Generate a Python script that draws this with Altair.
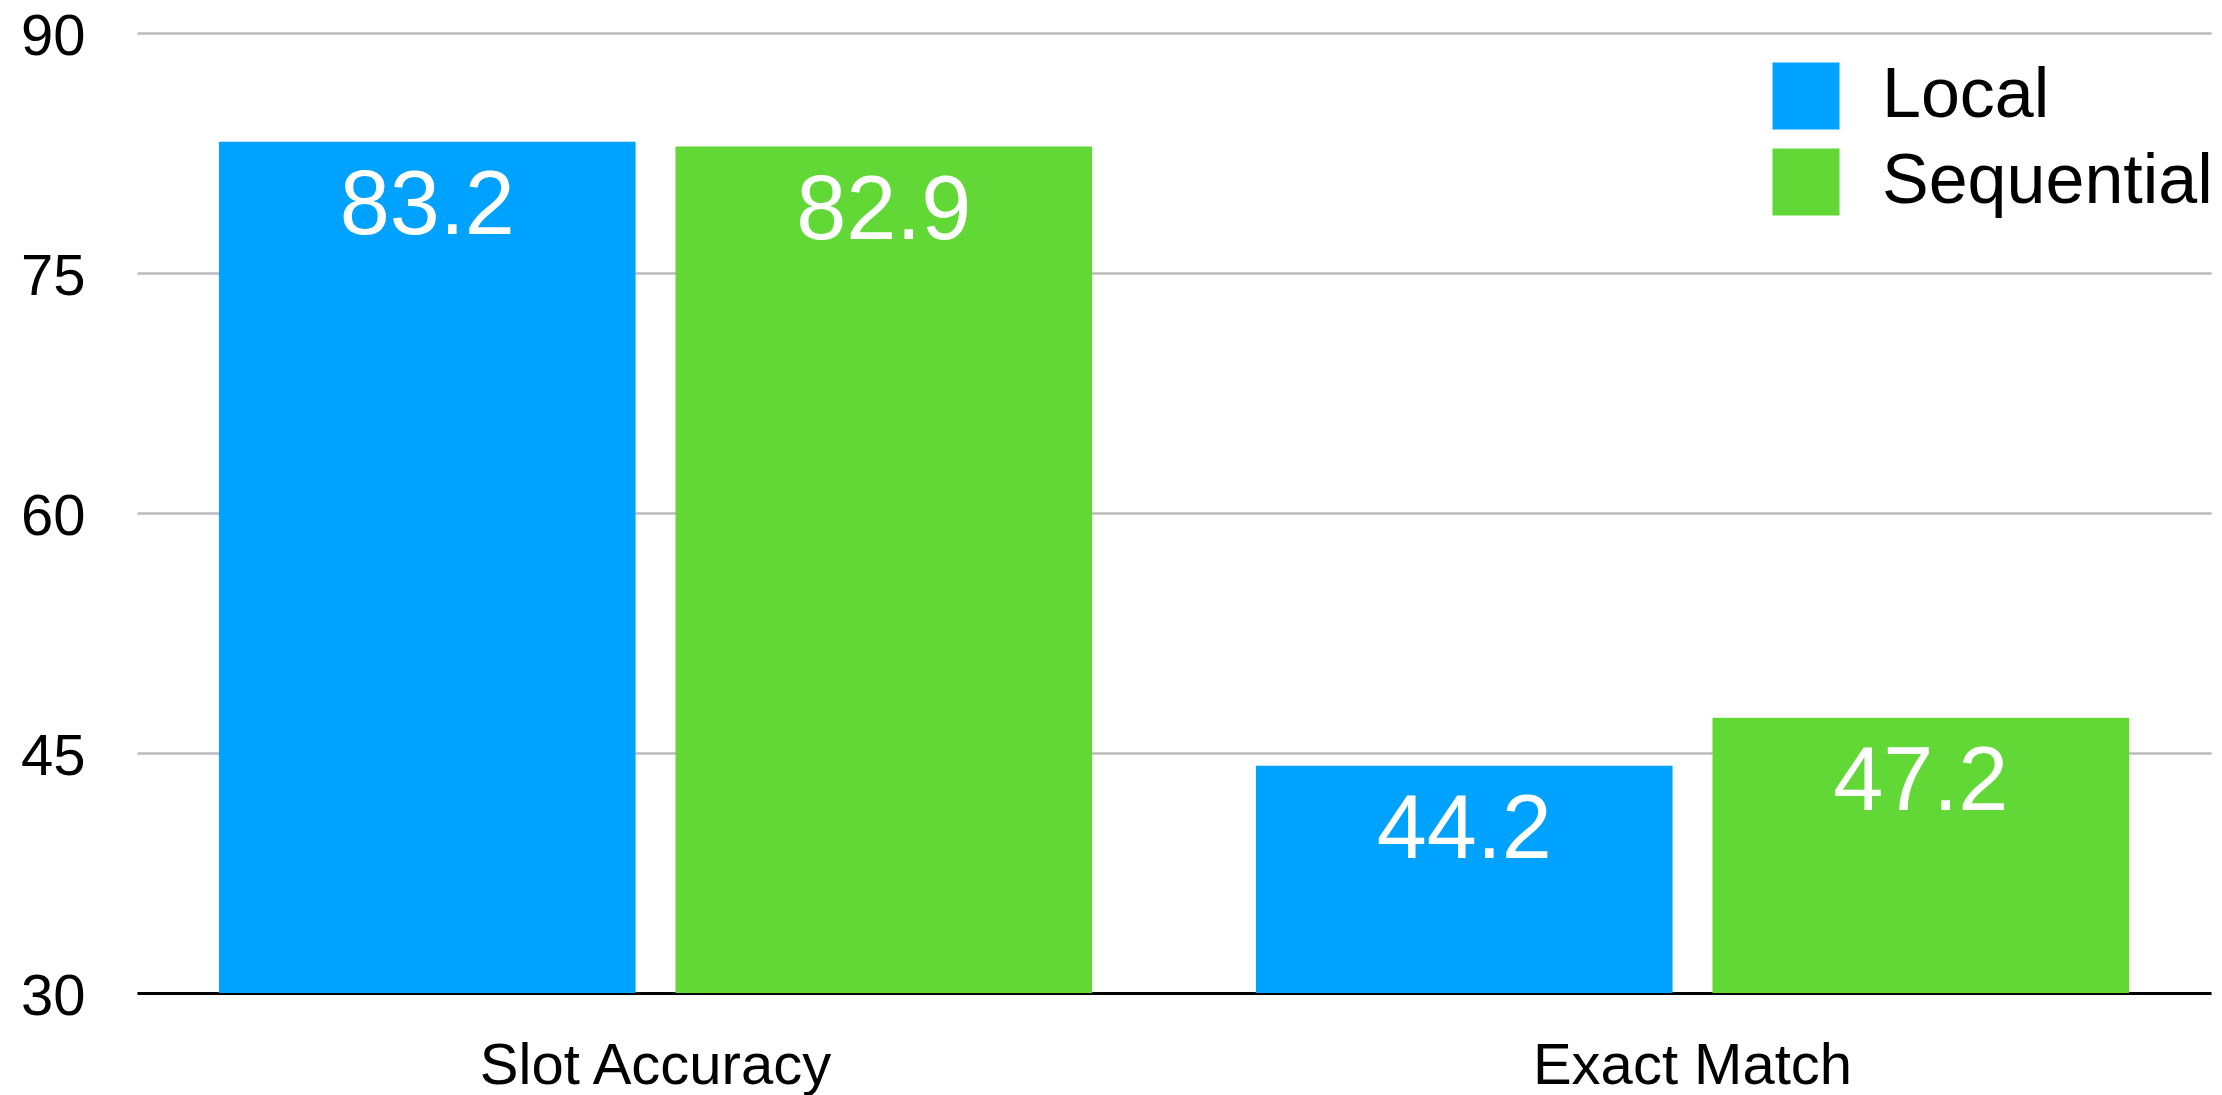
import altair as alt
import pandas as pd

categories = ["Slot Accuracy", "Exact Match"]
series = ["Local", "Sequential"]
local_vals = [83.2, 44.2]
seq_vals = [82.9, 47.2]
y_ticks = [30, 45, 60, 75, 90]
colors = ["#00A2FF", "#61D836"]

rows = []
for i, c in enumerate(categories):
    rows.append({"metric": c, "model": series[0], "value": local_vals[i]})
    rows.append({"metric": c, "model": series[1], "value": seq_vals[i]})
df = pd.DataFrame(rows)

FONT = "Liberation Sans"

x = alt.X(
    "metric:N",
    sort=categories,
    scale=alt.Scale(paddingInner=0.158, paddingOuter=0.079),
    axis=alt.Axis(
        title=None, labelAngle=0, labelFontSize=58, labelFont=FONT,
        labelColor="black", labelPadding=44, ticks=False, labelLimit=0,
        domainColor="black", domainWidth=3, grid=False,
    ),
)
xo = alt.XOffset("model:N", sort=series,
                 scale=alt.Scale(paddingInner=0.0875, paddingOuter=0))
y = alt.Y(
    "value:Q",
    scale=alt.Scale(domain=[30, 90], nice=False, zero=False),
    axis=alt.Axis(
        values=y_ticks, title=None, domain=False, ticks=False,
        labelFontSize=58, labelFont=FONT, labelColor="black", labelLimit=0,
        labelPadding=52, labelOffset=4, gridColor="#bbbbbb", gridWidth=2.5,
    ),
)

bars = alt.Chart(df).mark_bar().encode(
    x=x,
    xOffset=xo,
    y=y,
    y2=alt.datum(30),
    color=alt.Color(
        "model:N",
        sort=series,
        scale=alt.Scale(domain=series, range=colors),
        legend=alt.Legend(
            title=None, orient="none", legendX=1634, legendY=28,
            symbolType="square", symbolSize=4489, symbolStrokeWidth=0,
            labelFontSize=70, labelFont=FONT, labelColor="black", labelLimit=0,
            rowPadding=16, labelOffset=41, padding=0,
        ),
    ),
)

labels = alt.Chart(df).mark_text(
    color="white", fontSize=90, font=FONT, baseline="alphabetic", dy=92
).encode(
    x=x,
    xOffset=xo,
    y=y,
    text=alt.Text("value:Q", format=".1f"),
)

chart = (
    alt.layer(bars, labels)
    .properties(
        width=2074,
        height=960,
        autosize=alt.AutoSizeParams(type="none"),
        padding={"left": 129, "top": 25, "right": 3, "bottom": 102},
    )
    .configure(font=FONT)
    .configure_view(stroke=None)
)

chart.save("out.html", embed_options={"renderer": "svg", "actions": False})
